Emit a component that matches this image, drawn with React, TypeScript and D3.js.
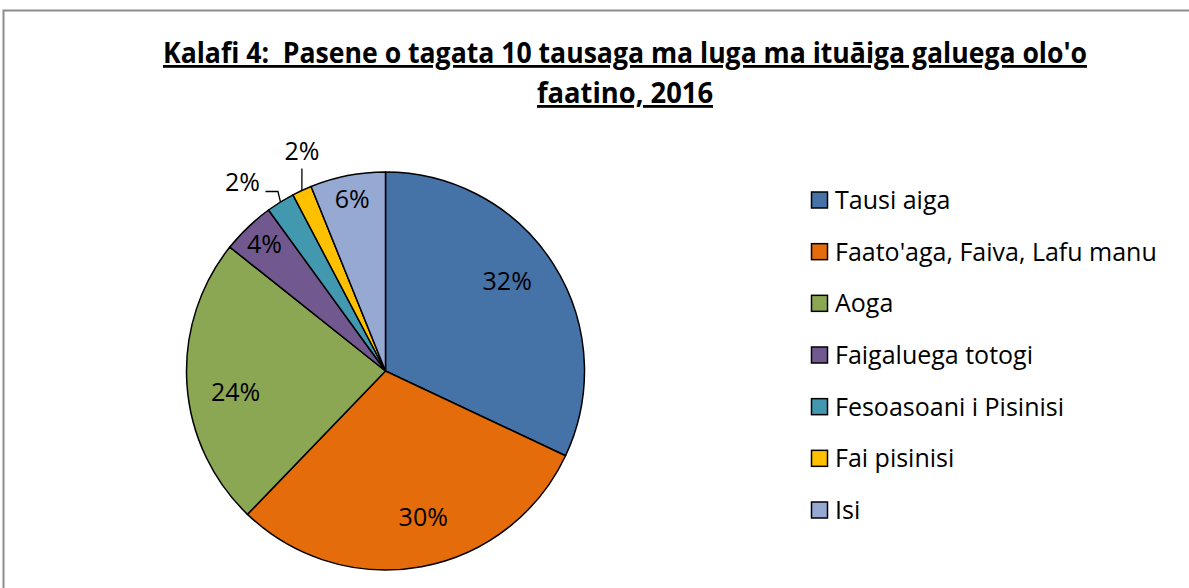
import React from "react";
import * as d3 from "d3";

const categories = [
  "Tausi aiga",
  "Faato'aga, Faiva, Lafu manu",
  "Aoga",
  "Faigaluega totogi",
  "Fesoasoani i Pisinisi",
  "Fai pisinisi",
  "Isi",
];
const values = [32.0, 30.2, 23.5, 4.3, 2.3, 1.6, 6.1];
const labels = ["32%", "30%", "24%", "4%", "2%", "2%", "6%"];
const colors = ["#4572A7", "#E46C0A", "#8BA753", "#71588F", "#4198AF", "#FFC000", "#95A9D3"];
const titleLines = [
  "Kalafi 4:  Pasene o tagata 10 tausaga ma luga ma ituāiga galuega olo'o",
  "faatino, 2016",
];

const W = 1189;
const H = 588;
const cx = 385.5;
const cy = 371;
const R = 199;
const FONT = "'Open Sans', Lato, sans-serif";
const FS = 25;

export default function App() {
  const pie = d3.pie<number>().sort(null).value((d) => d)(values);
  const arc = d3.arc<d3.PieArcDatum<number>>().innerRadius(0).outerRadius(R);
  const pt = (a: number, r: number): [number, number] => [Math.sin(a) * r, -Math.cos(a) * r];

  const legendY = d3.scalePoint<string>().domain(categories).range([200, 510]);
  const noLig = { fontVariantLigatures: "none", whiteSpace: "pre" } as React.CSSProperties;

  return (
    <svg width={W} height={H} style={{ position: "absolute", left: 0, top: 0, background: "#fff" }}>
      <rect x={3.5} y={10.5} width={1300} height={700} fill="#fff" stroke="#8c8c8c" strokeWidth={2} />
      {titleLines.map((t, i) => (
        <text
          key={i}
          x={625}
          y={i === 0 ? 63 : 103}
          textAnchor="middle"
          fontFamily={FONT}
          fontWeight="bold"
          fontSize={28}
          textDecoration="underline"
          textLength={i === 0 ? 924 : 176}
          lengthAdjust="spacingAndGlyphs"
          fill="#000"
          style={noLig}
        >
          {t}
        </text>
      ))}
      <g transform={`translate(${cx},${cy})`}>
        {pie.map((p, i) => (
          <path key={i} d={arc(p) || ""} fill={colors[i]} stroke="#000" strokeWidth={1.5} strokeLinejoin="round" />
        ))}
        {pie.map((p, i) => {
          const mid = (p.startAngle + p.endAngle) / 2;
          const frac = values[i] / 100;
          if (frac >= 0.03) {
            const big = frac > 0.2;
            const lr = big ? 0.76 * R : 0.88 * R;
            const [x, y] = pt(big ? mid - 0.07 : mid, lr);
            return (
              <text key={i} x={x} y={y} dy="0.36em" textAnchor="middle" fontFamily={FONT} fontSize={FS} fill="#000" style={noLig}>
                {labels[i]}
              </text>
            );
          }
          const [ex, ey] = pt(mid, R);
          if (i === 5) {
            return (
              <g key={i}>
                <line x1={ex} y1={ey} x2={ex} y2={ey - 22} stroke="#000" strokeWidth={1.3} />
                <text x={ex} y={ey - 30} textAnchor="middle" fontFamily={FONT} fontSize={FS} fill="#000" style={noLig}>
                  {labels[i]}
                </text>
              </g>
            );
          }
          return (
            <g key={i}>
              <polyline
                points={`${ex},${ey} ${ex - 2.5},${ey - 10.5} ${ex - 15},${ey - 10.5}`}
                fill="none"
                stroke="#000"
                strokeWidth={1.3}
              />
              <text x={ex - 38} y={ey - 11} textAnchor="middle" fontFamily={FONT} fontSize={FS} fill="#000" style={noLig}>
                {labels[i]}
              </text>
            </g>
          );
        })}
      </g>
      {categories.map((c, i) => {
        const y = legendY(c) as number;
        return (
          <g key={c}>
            <rect x={811.5} y={y - 8} width={16} height={16} fill={colors[i]} stroke="#000" strokeWidth={1.5} />
            <text x={835} y={y} dy="0.36em" fontFamily={FONT} fontSize={FS} fill="#000" style={noLig}>
              {c}
            </text>
          </g>
        );
      })}
    </svg>
  );
}
